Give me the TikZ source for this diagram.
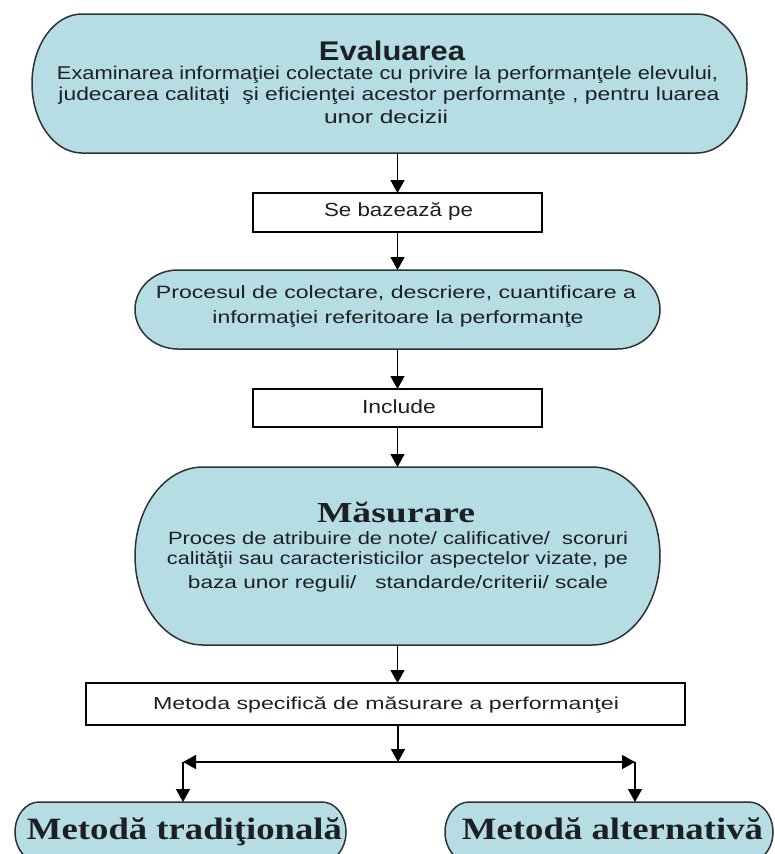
\documentclass[tikz,border=0pt]{standalone}
\usepackage{fontspec}
\usepackage{graphicx}
\setmainfont{Liberation Sans}
\newfontfamily\tnrfont{Liberation Serif}
\usetikzlibrary{arrows.meta,calc,backgrounds}
\definecolor{stadfill}{RGB}{183,221,228}
\definecolor{stadline}{RGB}{45,50,52}
\definecolor{txtcol}{RGB}{28,32,34}
\tikzset{
  shapebox/.style={inner sep=0pt, outer sep=0pt, draw=none},
  stadsty/.style={fill=stadfill, draw=stadline, line width=1.5pt},
  boxsty/.style={draw=black, fill=white, line width=1.6pt, inner sep=0pt, outer sep=0pt},
  tx/.style={inner sep=0pt, outer sep=0pt, anchor=base, text=txtcol},
  arr/.style={draw=black, line width=1.5pt, -{Triangle[width=14pt,length=13pt]}}
}
\newcommand{\stadium}[2]{%
  \path[stadsty] let \p1=(#1.south west), \p2=(#1.north east), \n1={(\y2-\y1)/2} in
    (\x1+#2pt,\y1) -- (\x2-#2pt,\y1)
    arc[start angle=-90, end angle=90, x radius=#2pt, y radius={\n1*1pt}]
    -- (\x1+#2pt,\y2)
    arc[start angle=90, end angle=270, x radius=#2pt, y radius={\n1*1pt}]
    -- cycle;}
\newcommand{\fitw}[2]{\resizebox{#1pt}{\height}{#2}}
\begin{document}
\begin{tikzpicture}[x=1pt, y=-1pt]
\useasboundingbox (0,0) rectangle (775,854);
\clip (0,0) rectangle (775,854);

% shape placeholders
\node[shapebox, minimum width=715pt, minimum height=139pt] (eval) at (389.5,83.5) {};
\node[boxsty, minimum width=289pt, minimum height=39pt] (sb) at (397.5,212.5) {};
\node[shapebox, minimum width=525pt, minimum height=79pt] (proc) at (397.5,309.5) {};
\node[boxsty, minimum width=289pt, minimum height=38pt] (inc) at (397.5,408) {};
\node[shapebox, minimum width=525pt, minimum height=178pt] (mas) at (397.5,556) {};
\node[boxsty, minimum width=599pt, minimum height=42pt] (met) at (385.5,704) {};
\node[shapebox, minimum width=331pt, minimum height=60pt] (trad) at (180.5,832) {};
\node[shapebox, minimum width=328pt, minimum height=60pt] (alt) at (609,832) {};

\begin{scope}[on background layer]
  \fill[white] (0,0) rectangle (775,854);
  \stadium{eval}{50}
  \stadium{proc}{43}
  \stadium{mas}{68}
  \stadium{trad}{24}
  \stadium{alt}{24}
\end{scope}

% texts
\node[tx] (evalT) at (392,60) {\fontsize{27}{27}\selectfont\fitw{146}{\bfseries Evaluarea}};
\node[tx] (evalL1) at (387.5,79) {\fontsize{18.5}{18}\selectfont\fitw{661}{Examinarea informaţiei colectate cu privire la performanţele elevului,}};
\node[tx] (evalL2) at (389,100) {\fontsize{18.5}{18}\selectfont\fitw{661}{judecarea calitaţi \ şi eficienţei acestor performanţe , pentru luarea}};
\node[tx] (evalL3) at (386,123) {\fontsize{18.5}{18}\selectfont\fitw{124}{unor decizii}};

\node[tx] (sbT) at (398.5,216) {\fontsize{19}{19}\selectfont\fitw{149}{Se bazează pe}};

\node[tx] (procL1) at (396,298) {\fontsize{17.8}{18}\selectfont\fitw{480}{Procesul de colectare, descriere, cuantificare a}};
\node[tx] (procL2) at (398,323) {\fontsize{17.8}{18}\selectfont\fitw{371}{informaţiei referitoare la performanţe}};

\node[tx] (incT) at (399,413) {\fontsize{19}{19}\selectfont\fitw{74}{Include}};

\node[tx] (masT) at (396,522) {\fontsize{29}{29}\selectfont\tnrfont\fitw{158}{\bfseries Măsurare}};
\node[tx] (masL1) at (398,544) {\fontsize{17.8}{18}\selectfont\fitw{460}{Proces de atribuire de note/ calificative/ \ scoruri}};
\node[tx] (masL2) at (397.5,564) {\fontsize{17.8}{18}\selectfont\fitw{461}{calităţii sau caracteristicilor aspectelor vizate, pe}};
\node[tx] (masL3) at (398,588) {\fontsize{17.8}{18}\selectfont\fitw{420}{baza unor reguli/ \ \ standarde/criterii/ scale}};

\node[tx] (metT) at (386,709) {\fontsize{17.3}{18}\selectfont\fitw{466}{Metoda specifică de măsurare a performanţei}};

\node[tx] (tradT) at (184.5,839) {\fontsize{31}{31}\selectfont\tnrfont\fitw{315}{\bfseries Metodă tradiţională}};
\node[tx] (altT) at (612.5,839) {\fontsize{31}{31}\selectfont\tnrfont\fitw{301}{\bfseries Metodă alternativă}};

% connectors
\coordinate (split) at (398,762);
\coordinate (lc) at (183,762);
\coordinate (rc) at (635,762);
\draw[arr] (sb.north |- eval.south) -- (sb.north);
\draw[arr] (sb.south) -- (proc.north);
\draw[arr] (proc.south) -- (inc.north);
\draw[arr] (inc.south) -- (mas.north);
\draw[arr] (mas.south) -- (mas.south |- met.north);
\draw[arr] (met.south -| split) -- (split);
\draw[arr] (split) -- (lc);
\draw[arr] (split) -- (rc);
\draw[arr] (lc) -- (lc |- trad.north);
\draw[arr] (rc) -- (rc |- alt.north);
\end{tikzpicture}
\end{document}
